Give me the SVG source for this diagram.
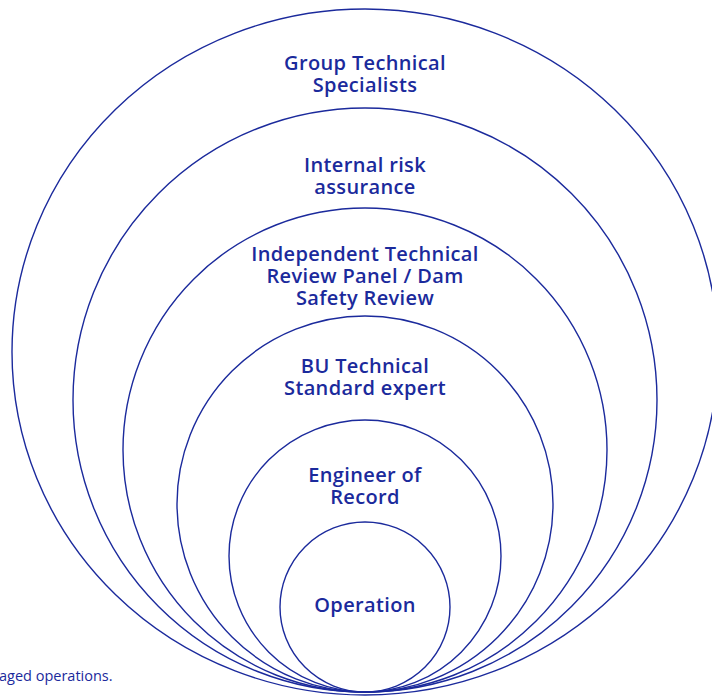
<svg xmlns="http://www.w3.org/2000/svg" width="712" height="697" viewBox="0 0 712 697">
  <style>
    .ring { fill: none; stroke: #1b2a9c; stroke-width: 1.4; }
    .lbl { font-family: "Open Sans", "Liberation Sans", sans-serif; font-size: 20px; font-weight: 600; letter-spacing: 0.35px; fill: #1b2a9c; text-anchor: middle; }
    .note { font-family: "Open Sans", "Liberation Sans", sans-serif; font-size: 14.5px; fill: #1b2a9c; }
  </style>
  <rect width="712" height="697" fill="#ffffff"/>
  <g id="group-technical-specialists">
    <ellipse class="ring" cx="365" cy="352" rx="353" ry="343"/>
    <text class="lbl" x="365" y="70">Group Technical</text>
    <text class="lbl" x="365" y="92">Specialists</text>
  </g>
  <g id="internal-risk-assurance">
    <circle class="ring" cx="365" cy="400" r="292"/>
    <text class="lbl" x="365" y="172">Internal risk</text>
    <text class="lbl" x="365" y="194">assurance</text>
  </g>
  <g id="independent-technical-review">
    <circle class="ring" cx="365" cy="450" r="242"/>
    <text class="lbl" x="365" y="261">Independent Technical</text>
    <text class="lbl" x="365" y="283">Review Panel / Dam</text>
    <text class="lbl" x="365" y="305">Safety Review</text>
  </g>
  <g id="bu-technical-standard-expert">
    <circle class="ring" cx="365" cy="504" r="188"/>
    <text class="lbl" x="365" y="373">BU Technical</text>
    <text class="lbl" x="365" y="395">Standard expert</text>
  </g>
  <g id="engineer-of-record">
    <circle class="ring" cx="365" cy="556" r="136"/>
    <text class="lbl" x="365" y="482">Engineer of</text>
    <text class="lbl" x="365" y="504">Record</text>
  </g>
  <g id="operation">
    <circle class="ring" cx="365" cy="607" r="85"/>
    <text class="lbl" x="365" y="612">Operation</text>
  </g>
  <text class="note" x="-1" y="681">aged operations.</text>
</svg>
